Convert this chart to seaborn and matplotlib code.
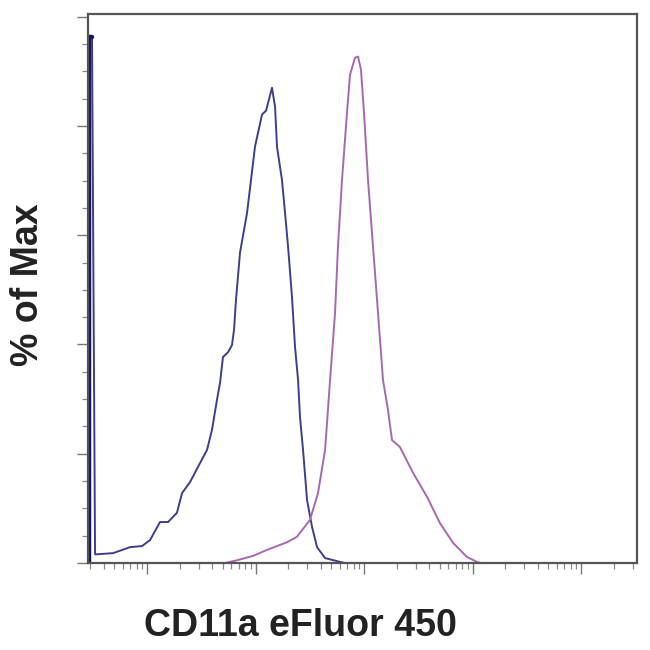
import numpy as np
import pandas as pd
import matplotlib
matplotlib.use("Agg")
import matplotlib.pyplot as plt
import matplotlib.ticker as mticker
import seaborn as sns

# histogram traces
# x as log10 of fluorescence intensity, y as % of max
unstained_log = [0.461, 0.461, 0.493, 0.521, 0.539, 0.687, 0.843, 0.954, 1.028, 1.120,
                 1.194, 1.276, 1.323, 1.396, 1.470, 1.553, 1.599, 1.645, 1.673, 1.700,
                 1.747, 1.783, 1.802, 1.820, 1.857, 1.922, 1.995, 2.060, 2.097, 2.152,
                 2.180, 2.198, 2.244, 2.272, 2.300, 2.336, 2.364, 2.392, 2.410, 2.438,
                 2.475, 2.521, 2.567, 2.641, 2.779, 2.825]
unstained_pct = [0, 96.3, 96.3, 1.6, 1.6, 1.8, 2.9, 3.1, 4.2, 7.5,
                 7.5, 9.2, 12.8, 14.8, 17.6, 20.7, 24.4, 29.9, 33.0, 37.7,
                 38.6, 39.9, 42.7, 48.2, 56.8, 64.1, 76.2, 82.1, 82.8, 87.0,
                 83.5, 76.2, 70.1, 64.1, 57.9, 48.7, 39.6, 33.5, 26.7, 20.7,
                 11.5, 6.6, 2.9, 0.9, 0.2, 0]

cd11a_log = [1.719, 1.829, 1.977, 2.106, 2.290, 2.382, 2.502, 2.576, 2.641, 2.687,
             2.733, 2.760, 2.797, 2.843, 2.871, 2.917, 2.945, 2.972, 3.000, 3.037,
             3.083, 3.129, 3.175, 3.221, 3.258, 3.332, 3.452, 3.581, 3.700, 3.820,
             3.949, 4.041, 4.069]
cd11a_pct = [0, 0.5, 1.3, 2.4, 3.8, 4.8, 7.9, 12.8, 20.7, 33.5,
             45.8, 57.9, 70.1, 82.4, 89.4, 92.5, 92.7, 90.3, 82.4, 70.1,
             57.9, 45.8, 33.5, 28.0, 22.5, 21.2, 16.5, 12.1, 7.3, 3.7,
             1.1, 0.2, 0]

df_unst = pd.DataFrame({"fl": 10 ** np.array(unstained_log), "pct": unstained_pct})
df_cd11a = pd.DataFrame({"fl": 10 ** np.array(cd11a_log), "pct": cd11a_pct})

sns.set_style("ticks")
plt.rcParams['font.family'] = ['Liberation Sans', 'DejaVu Sans']

fig = plt.figure(figsize=(6.5, 6.5), dpi=100)
ax = fig.add_axes([88 / 650, 1 - 563 / 650, (637 - 88) / 650, (563 - 14) / 650])

sns.lineplot(data=df_unst, x="fl", y="pct", ax=ax, sort=False, estimator=None,
             color="#3d3f8c", linewidth=1.4)
# the pile-up at the lowest channel looks like a heavy bar on the axis
sns.lineplot(data=df_unst.iloc[:3], x="fl", y="pct", ax=ax, sort=False, estimator=None,
             color="#16165e", linewidth=3.2)
sns.lineplot(data=df_cd11a, x="fl", y="pct", ax=ax, sort=False, estimator=None,
             color="#a868b0", linewidth=1.4)

ax.set_xscale("log")
ax.set_xlim(10 ** 0.456, 10 ** 5.516)
ax.set_ylim(0, 100.5)

ax.xaxis.set_major_locator(mticker.LogLocator(base=10, numticks=10))
ax.xaxis.set_minor_locator(mticker.LogLocator(base=10, subs=np.arange(2, 10), numticks=20))
ax.yaxis.set_major_locator(mticker.MultipleLocator(20))
ax.yaxis.set_minor_locator(mticker.MultipleLocator(5))
ax.xaxis.set_major_formatter(mticker.NullFormatter())
ax.xaxis.set_minor_formatter(mticker.NullFormatter())
ax.yaxis.set_major_formatter(mticker.NullFormatter())

ax.tick_params(which="major", length=8, width=1.0, color="#777777", direction="out")
ax.tick_params(which="minor", length=4, width=0.9, color="#888888", direction="out")

for side in ["top", "right", "bottom", "left"]:
    ax.spines[side].set_visible(True)
    ax.spines[side].set_color("#555555")
    ax.spines[side].set_linewidth(1.6)

ax.set_xlabel("")
ax.set_ylabel("")
fig.text(300 / 650, 1 - 626 / 650, "CD11a eFluor 450", ha="center", va="center",
         fontsize=27, fontweight="bold", color="#222222")
fig.text(28 / 650, 1 - 285 / 650, "% of Max", ha="center", va="center", rotation=90,
         fontsize=27, fontweight="bold", color="#222222")

fig.savefig("out.png", dpi=100, facecolor="white")
